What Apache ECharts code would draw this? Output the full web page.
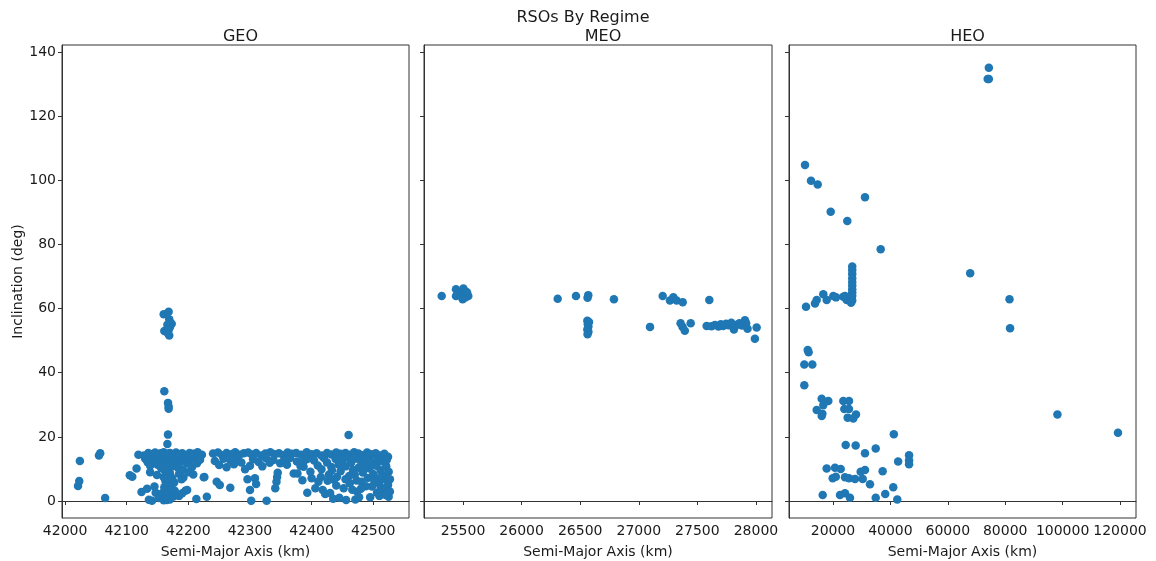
<!DOCTYPE html>
<html>
<head>
<meta charset="utf-8">
<title>RSOs By Regime</title>
<script src="https://cdn.jsdelivr.net/npm/echarts@6/dist/echarts.min.js"></script>
<style>
  html, body { margin: 0; padding: 0; background: #fff; }
  #chart { width: 1156px; height: 561px; }
</style>
</head>
<body>
<div id="chart"></div>
<script>
// panel titles
var regimes = ['GEO', 'MEO', 'HEO'];

// tick labels
var incTicks = [0, 20, 40, 60, 80, 100, 120, 140];
var geoTicks = [42000, 42100, 42200, 42300, 42400, 42500];
var meoTicks = [25500, 26000, 26500, 27000, 27500, 28000];
var heoTicks = [20000, 40000, 60000, 80000, 100000, 120000];

// [semi-major axis km, inclination deg]
var geoPoints = [
  // lonely ones on the left
  [42021, 4.7], [42023, 6.2], [42024, 12.5], [42055, 14.2], [42057, 14.9], [42065, 0.9],
  [42105, 8.0], [42109, 7.6], [42116, 10.1], [42119, 14.4], [42124, 2.8], [42133, 3.8],
  [42136, 0.4], [42141, 0.1], [42138, 9.0], [42149, 8.1], [42147, 2.6], [42152, 0.9], [42145, 4.5],
  // the tall column
  [42160, 58.2], [42168, 59.0], [42169, 56.7], [42173, 55.3], [42170, 54.2], [42166, 55.0],
  [42161, 53.0], [42168, 53.3], [42169, 51.6], [42167, 52.2], [42161, 34.2], [42167, 30.6],
  [42168, 29.5], [42168, 28.8], [42167, 20.7], [42166, 17.8],
  [42160, 0.2], [42165, 0.3], [42170, 0.5], [42163, 1.2], [42168, 1.8], [42158, 2.5], [42172, 2.2],
  [42164, 3.0], [42169, 3.6], [42161, 4.3], [42166, 4.8], [42171, 5.5], [42163, 6.1], [42168, 6.8],
  [42160, 7.4], [42174, 7.2], [42165, 8.0], [42170, 8.7], [42162, 9.4], [42167, 10.1], [42172, 10.6],
  [42159, 11.2], [42164, 11.8], [42169, 12.3], [42174, 12.9], [42161, 13.4], [42176, 1.4],
  [42180, 2.0], [42185, 1.6], [42178, 3.2], [42190, 2.4], [42195, 3.2], [42173, 4.0], [42177, 5.8],
  // block around the column
  [42130, 13.2], [42134, 12.1], [42138, 11.0], [42142, 13.6], [42146, 12.4], [42150, 11.3],
  [42153, 13.0], [42156, 10.2], [42177, 11.5], [42180, 13.1], [42183, 10.4], [42187, 12.2],
  [42191, 9.8], [42194, 13.4], [42198, 11.7], [42202, 12.8], [42206, 10.6], [42210, 13.3],
  [42214, 11.8], [42219, 12.9], [42185, 8.5], [42192, 7.3], [42200, 9.0], [42208, 8.3],
  [42226, 7.5], [42189, 6.8], [42198, 3.4], [42213, 0.6], [42230, 1.3], [42225, 7.4],
  [42246, 6.0], [42251, 5.0], [42268, 4.1],
  // top edge of the band
  [42128, 14.2], [42135, 15.0], [42140, 14.6], [42146, 15.1], [42150, 14.4], [42155, 14.9],
  [42160, 15.2], [42165, 14.7], [42170, 15.0], [42175, 14.5], [42180, 15.1], [42185, 14.6],
  [42190, 14.9], [42196, 14.3], [42202, 15.0], [42208, 14.7], [42215, 15.2], [42222, 14.4],
  [42240, 14.8], [42248, 15.1], [42255, 14.3], [42262, 15.0], [42270, 14.6], [42276, 15.2],
  [42283, 14.4], [42290, 14.9], [42297, 15.1], [42303, 14.5], [42310, 15.0], [42318, 14.2],
  [42325, 14.8], [42333, 15.2], [42340, 14.6], [42347, 14.9], [42354, 14.3], [42361, 15.1],
  [42368, 14.7], [42375, 15.0], [42383, 14.4], [42392, 15.2], [42400, 14.6], [42408, 14.9],
  [42416, 14.2], [42425, 15.0], [42432, 14.5], [42440, 15.1], [42447, 14.7], [42455, 15.0],
  [42462, 14.4], [42469, 15.2], [42476, 14.8], [42483, 14.3], [42490, 15.1], [42497, 14.6],
  [42504, 14.9], [42511, 14.2], [42518, 14.7], [42524, 13.8],
  // middle stretch
  [42243, 12.5], [42250, 11.2], [42257, 13.2], [42262, 10.5], [42268, 12.7], [42274, 11.5],
  [42280, 13.6], [42286, 12.0], [42292, 9.9], [42296, 6.8], [42300, 11.0], [42305, 13.0],
  [42308, 7.1], [42300, 3.4], [42302, 0.1], [42327, 0.1], [42310, 5.3], [42314, 12.2],
  [42320, 10.8], [42326, 13.3], [42332, 11.9], [42338, 12.8], [42343, 6.0], [42344, 7.5],
  [42341, 4.0], [42349, 11.8], [42345, 8.8], [42355, 12.5], [42360, 11.3], [42365, 13.4],
  [42371, 8.6], [42376, 12.3], [42377, 8.6], [42382, 10.9], [42387, 10.7], [42392, 13.0],
  [42393, 2.6], [42398, 9.1], [42404, 12.6], [42410, 11.1], [42411, 6.0], [42416, 9.9],
  [42418, 3.4], [42422, 2.2], [42420, 13.4],
  // dense right end
  [42425, 12.0], [42428, 8.2], [42432, 10.6], [42435, 0.7], [42436, 6.6], [42439, 13.1],
  [42441, 7.5], [42444, 11.4], [42447, 9.3], [42450, 12.7], [42452, 4.0], [42455, 10.8],
  [42456, 0.3], [42458, 13.6], [42460, 20.6], [42461, 7.8], [42464, 11.9], [42467, 9.7],
  [42470, 13.2], [42471, 0.5], [42473, 6.4], [42474, 2.9], [42476, 10.4], [42477, 1.2],
  [42479, 12.6], [42481, 6.0], [42483, 8.9], [42486, 11.5], [42489, 13.4], [42491, 7.2],
  [42494, 10.1], [42495, 1.2], [42497, 12.2], [42498, 4.5], [42500, 8.4], [42503, 7.5],
  [42505, 11.0], [42507, 13.0], [42509, 5.6], [42510, 1.6], [42512, 9.6], [42514, 12.4],
  [42516, 6.8], [42518, 3.2], [42519, 7.6], [42521, 10.8], [42522, 12.9], [42524, 5.0],
  [42525, 9.1], [42525, 1.3], [42527, 3.0], [42527, 6.8], [42520, 1.9], [42515, 8.0],
  [42506, 2.6], [42488, 4.6], [42466, 3.5], [42445, 1.0], [42430, 2.5], [42426, 6.3],
  [42400, 7.1], [42385, 6.5], [42386, 12.1], [42406, 4.0], [42415, 7.5], [42462, 5.5],
  [42485, 9.8], [42480, 3.8], [42470, 8.2], [42455, 6.8], [42440, 4.8], [42433, 9.6],
  [42512, 4.4], [42502, 6.0]
];

var meoPoints = [
  [25318, 63.9], [25440, 66.0], [25440, 63.9], [25503, 66.3], [25520, 65.4], [25511, 64.3],
  [25497, 62.9], [25545, 63.9], [25480, 64.3], [25520, 63.5], [25535, 65.0],
  [26308, 63.1], [26464, 63.9], [26569, 64.2], [26563, 63.4],
  [26561, 56.2], [26565, 55.1], [26570, 54.4], [26561, 53.5], [26570, 52.8], [26563, 52.0], [26575, 55.8],
  [26788, 62.9], [27096, 54.3],
  [27204, 63.9], [27266, 62.5], [27295, 63.5], [27323, 62.5], [27375, 62.0],
  [27357, 55.4], [27374, 54.3], [27393, 53.1], [27443, 55.4], [27602, 62.7],
  [27579, 54.6], [27620, 54.5], [27650, 54.9], [27680, 54.4], [27700, 55.1], [27720, 54.6],
  [27745, 55.3], [27765, 54.8], [27790, 55.6], [27812, 53.5], [27835, 54.9], [27858, 55.4],
  [27880, 54.7], [27906, 56.4], [27916, 55.4], [27928, 53.7], [28006, 54.1], [27991, 50.6]
];

var heoPoints = [
  [74300, 135.1], [73900, 131.6], [74300, 131.6],
  [10245, 104.8], [12335, 99.9], [14670, 98.7], [31150, 94.7], [19200, 90.2], [24980, 87.3],
  [36620, 78.5], [67800, 71.0], [81500, 62.9], [81700, 53.9],
  [10590, 60.6], [13730, 61.6], [14320, 62.7], [16620, 64.5], [17800, 62.7], [20100, 63.9],
  [21050, 63.5], [24180, 63.9], [25330, 63.2], [23590, 63.7], [24770, 62.7], [26100, 63.8],
  [26700, 73.1], [26700, 72.0], [26700, 70.8], [26700, 69.5], [26700, 68.3], [26700, 67.2],
  [26700, 66.0], [26700, 65.0], [26700, 64.0], [26500, 63.2], [26700, 62.5], [26300, 61.8],
  [11200, 47.1], [11500, 46.4], [10000, 42.6], [12800, 42.6], [10000, 36.1],
  [98200, 27.0], [119300, 21.3],
  [16060, 31.9], [18360, 31.2], [16620, 29.9], [14320, 28.4], [16060, 26.5], [16300, 27.2],
  [23590, 31.2], [25570, 31.2], [23940, 28.7], [25570, 28.7], [25120, 26.0], [27070, 25.7], [28010, 27.0],
  [41200, 20.8], [24420, 17.5], [27900, 17.3], [31150, 14.9], [34880, 16.4],
  [46500, 14.3], [46500, 12.7], [46500, 11.5], [42700, 12.3],
  [17800, 10.1], [20700, 10.4], [22680, 10.0], [19900, 7.1], [20970, 7.6], [24180, 7.4],
  [25570, 7.1], [27660, 6.9], [30340, 6.9], [29650, 9.1], [31150, 9.7], [37300, 9.3],
  [32890, 5.2], [41000, 4.3],
  [16410, 1.9], [22440, 1.9], [24180, 2.4], [25920, 1.0], [34880, 1.0], [38200, 2.2], [42400, 0.5]
];

var panels = [
  { data: geoPoints, ticks: geoTicks, min: 41995, max: 42558, left: 62, width: 347 },
  { data: meoPoints, ticks: meoTicks, min: 25167, max: 28137, left: 424, width: 348 },
  { data: heoPoints, ticks: heoTicks, min: 4670, max: 125575, left: 789, width: 347 }
];

var FONT = 'DejaVu Sans';
var ink = '#1a1a1a';
var plain = function (v) { return String(v); };

var myChart = echarts.init(document.getElementById('chart'));

var titles = [{
  text: 'RSOs By Regime', left: 578, top: 5, textAlign: 'center',
  textStyle: { fontFamily: FONT, fontSize: 16, fontWeight: 'normal', color: ink }
}];
var grids = [], xAxes = [], yAxes = [], series = [];

panels.forEach(function (p, i) {
  titles.push({
    text: regimes[i], left: p.left + p.width / 2, top: 24, textAlign: 'center',
    textStyle: { fontFamily: FONT, fontSize: 16, fontWeight: 'normal', color: ink }
  });
  grids.push({
    left: p.left, top: 45, width: p.width, height: 473,
    outerBoundsMode: 'none', containLabel: false,
    show: true, borderColor: '#333', borderWidth: 1, backgroundColor: '#fff'
  });
  xAxes.push({
    type: 'value', gridIndex: i, min: p.min, max: p.max,
    name: 'Semi-Major Axis (km)', nameLocation: 'middle', nameGap: 27,
    nameTextStyle: { fontFamily: FONT, fontSize: 14, color: ink },
    axisLine: { show: true, lineStyle: { color: '#333' } },
    axisTick: { show: true, length: 4, customValues: p.ticks, lineStyle: { color: '#333' } },
    axisLabel: { customValues: p.ticks, formatter: plain, fontFamily: FONT, fontSize: 14, color: ink, margin: 6 },
    splitLine: { show: false }
  });
  yAxes.push({
    type: 'value', gridIndex: i, min: -5.3, max: 142.2,
    name: i === 0 ? 'Inclination (deg)' : '', nameLocation: 'middle', nameGap: 37,
    nameTextStyle: { fontFamily: FONT, fontSize: 14, color: ink },
    axisLine: { show: true, lineStyle: { color: '#333' } },
    axisTick: { show: true, length: 4, customValues: incTicks, lineStyle: { color: '#333' } },
    axisLabel: { show: i === 0, customValues: incTicks, formatter: plain, fontFamily: FONT, fontSize: 14, color: ink, margin: 6 },
    splitLine: { show: false }
  });
  series.push({
    type: 'scatter', xAxisIndex: i, yAxisIndex: i,
    data: p.data, symbolSize: 8.5,
    itemStyle: { color: '#1f77b4', opacity: 1 },
    animation: false
  });
});

var option = {
  backgroundColor: '#fff',
  animation: false,
  title: titles,
  grid: grids,
  xAxis: xAxes,
  yAxis: yAxes,
  series: series
};
myChart.setOption(option);
</script>
</body>
</html>
